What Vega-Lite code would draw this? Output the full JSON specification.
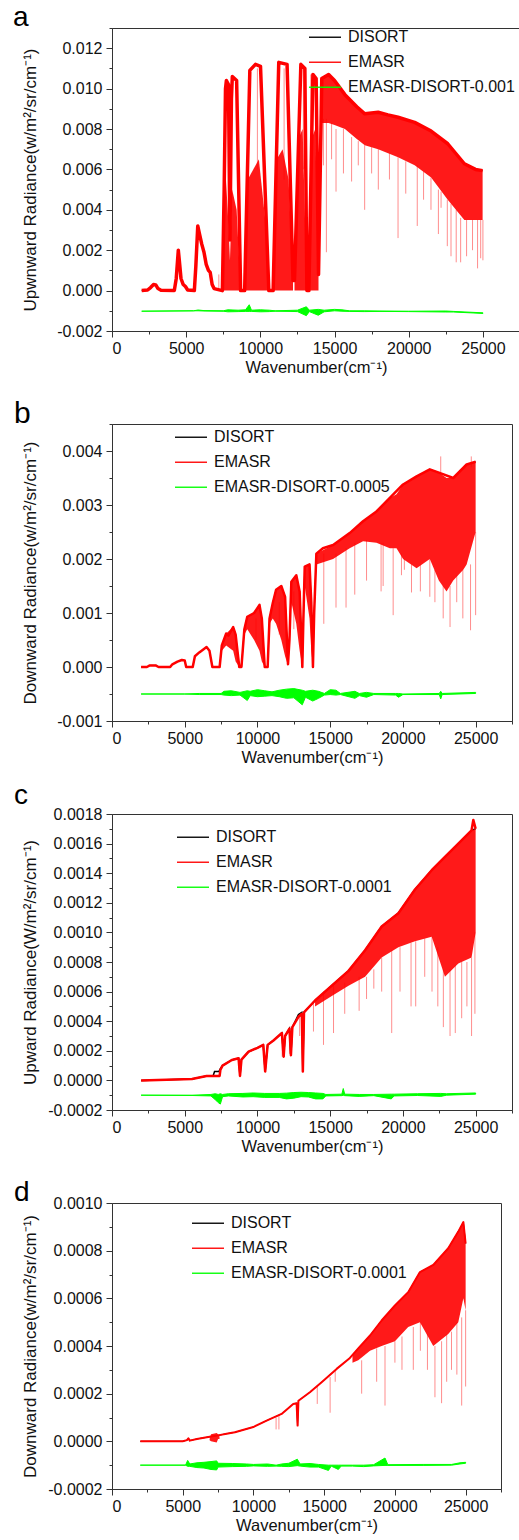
{
"$schema":"https://vega.github.io/schema/vega-lite/v6.json",
"padding":{"left":12,"top":3,"right":0,"bottom":0},
"bounds":"flush",
"spacing":93,
"resolve":{"scale":{"color":"independent"},"legend":{"color":"independent"}},
"config":{
"view":{"stroke":"#333","strokeWidth":1},
"font":"Liberation Sans",
"axis":{"domainColor":"#333","tickColor":"#333","labelColor":"#111","titleColor":"#111","labelFont":"Liberation Sans","titleFont":"Liberation Sans","labelFontSize":16,"titleFontWeight":"normal","grid":false,"labelPadding":4,"tickSize":6},
"axisX":{"titleFontSize":16.5,"titlePadding":3.5,"labelPadding":3},
"axisY":{"titleFontSize":17,"titleX":-77,"titleBaseline":"alphabetic"},
"legend":{"orient":"none","symbolType":"stroke","symbolSize":1024,"symbolStrokeWidth":1.5,"labelFontSize":16,"labelFont":"Liberation Sans","labelColor":"#111","labelLimit":0,"rowPadding":-13,"padding":0,"labelOffset":6}
},
"datasets":{
"aL":[{"x":2000,"y":0},{"x":2400,"y":0.00003},{"x":2600,"y":0.00015},{"x":2800,"y":0.0003},{"x":2950,"y":0.00028},{"x":3100,"y":0.0001},{"x":3300,"y":0.00002},{"x":4200,"y":0},{"x":4330,"y":0.0006},{"x":4470,"y":0.002},{"x":4550,"y":0.0014},{"x":4650,"y":0.0006},{"x":4800,"y":0.0003},{"x":4950,"y":0.0002},{"x":5100,"y":0.00003},{"x":5550,"y":0},{"x":5650,"y":0.0012},{"x":5780,"y":0.0032},{"x":5900,"y":0.0028},{"x":6050,"y":0.0023},{"x":6200,"y":0.0019},{"x":6350,"y":0.0013},{"x":6500,"y":0.001},{"x":6620,"y":0.0009},{"x":6750,"y":0.0003},{"x":6880,"y":0.0001},{"x":7440,"y":0},{"x":7560,"y":0.005},{"x":7650,"y":0.01},{"x":7710,"y":0.0104},{"x":7850,"y":0.0102},{"x":7950,"y":0.0025},{"x":8050,"y":0.0095},{"x":8110,"y":0.0106},{"x":8400,"y":0.0104},{"x":8670,"y":0},{"x":8940,"y":0},{"x":9290,"y":0.0109},{"x":9670,"y":0.0112},{"x":10010,"y":0.0111},{"x":10570,"y":0},{"x":10860,"y":0},{"x":11240,"y":0.0113},{"x":11800,"y":0.0112},{"x":12200,"y":0.0005},{"x":12300,"y":0.0005},{"x":12730,"y":0.0112},{"x":13000,"y":0.011},{"x":13136,"y":0},{"x":13270,"y":0},{"x":13540,"y":0.0107},{"x":13760,"y":0.0105},{"x":13920,"y":0.0008},{"x":14140,"y":0.0105},{"x":14600,"y":0.0107},{"x":15000,"y":0.0104},{"x":15700,"y":0.0097},{"x":16500,"y":0.0091},{"x":17040,"y":0.00875},{"x":17940,"y":0.00883},{"x":18600,"y":0.0087},{"x":19280,"y":0.00858},{"x":20400,"y":0.00833},{"x":21510,"y":0.0079},{"x":22630,"y":0.00727},{"x":23750,"y":0.00628},{"x":24500,"y":0.006},{"x":24980,"y":0.00594}],
"aB":[{"g":1,"x":7440,"y":0,"y2":0},{"g":1,"x":7600,"y":0.0065,"y2":0},{"g":1,"x":7800,"y":0.004,"y2":0},{"g":1,"x":7950,"y":0.0015,"y2":0},{"g":1,"x":8100,"y":0.005,"y2":0},{"g":1,"x":8400,"y":0.004,"y2":0},{"g":1,"x":8670,"y":0,"y2":0},{"g":2,"x":8940,"y":0,"y2":0},{"g":2,"x":9150,"y":0.0055,"y2":0},{"g":2,"x":9900,"y":0.0065,"y2":0},{"g":2,"x":10400,"y":0.003,"y2":0},{"g":2,"x":10570,"y":0,"y2":0},{"g":3,"x":10860,"y":0,"y2":0},{"g":3,"x":11100,"y":0.0065,"y2":0},{"g":3,"x":11500,"y":0.007,"y2":0},{"g":3,"x":11900,"y":0.0055,"y2":0},{"g":3,"x":12200,"y":0.0005,"y2":0},{"g":4,"x":12300,"y":0.0005,"y2":0},{"g":4,"x":12550,"y":0.0075,"y2":0},{"g":4,"x":12850,"y":0.008,"y2":0},{"g":4,"x":13136,"y":0,"y2":0},{"g":5,"x":13270,"y":0,"y2":0},{"g":5,"x":13450,"y":0.0075,"y2":0},{"g":5,"x":13700,"y":0.008,"y2":0},{"g":5,"x":13920,"y":0.0008,"y2":0},{"g":6,"x":14100,"y":0.01,"y2":0.0085},{"g":6,"x":14140,"y":0.0105,"y2":0.0083},{"g":6,"x":14600,"y":0.0107,"y2":0.0083},{"g":6,"x":15000,"y":0.0104,"y2":0.0082},{"g":6,"x":15700,"y":0.0097,"y2":0.008},{"g":6,"x":16500,"y":0.0091,"y2":0.0075},{"g":6,"x":17040,"y":0.00875,"y2":0.0072},{"g":6,"x":17940,"y":0.00883,"y2":0.007},{"g":6,"x":19280,"y":0.00858,"y2":0.0066},{"g":6,"x":20400,"y":0.00833,"y2":0.0062},{"g":6,"x":21510,"y":0.0079,"y2":0.0056},{"g":6,"x":22630,"y":0.00727,"y2":0.0045},{"g":6,"x":23750,"y":0.00628,"y2":0.0035},{"g":6,"x":24500,"y":0.006,"y2":0.0035},{"g":6,"x":24980,"y":0.00594,"y2":0.0035}],
"aS":[{"x":7200,"y":0.0008,"y2":0},{"x":9800,"y":0.011,"y2":0.006},{"x":11600,"y":0.011,"y2":0.0055},{"x":12900,"y":0.011,"y2":0.006},{"x":13400,"y":0.0107,"y2":0.005},{"x":14250,"y":0.0085,"y2":0.0062},{"x":14450,"y":0.0085,"y2":0.0019},{"x":14800,"y":0.0083,"y2":0.0065},{"x":15100,"y":0.008,"y2":0.0049},{"x":15600,"y":0.008,"y2":0.0058},{"x":16150,"y":0.0076,"y2":0.0054},{"x":16600,"y":0.0074,"y2":0.0062},{"x":17030,"y":0.0072,"y2":0.004},{"x":17500,"y":0.0071,"y2":0.0058},{"x":17950,"y":0.007,"y2":0.005},{"x":18700,"y":0.0068,"y2":0.0055},{"x":19280,"y":0.0066,"y2":0.0026},{"x":19800,"y":0.0064,"y2":0.0048},{"x":20575,"y":0.0062,"y2":0.0032},{"x":21000,"y":0.0059,"y2":0.0045},{"x":21500,"y":0.0056,"y2":0.004},{"x":22000,"y":0.005,"y2":0.0028},{"x":22180,"y":0.0049,"y2":0.0041},{"x":22600,"y":0.0045,"y2":0.0022},{"x":22850,"y":0.0043,"y2":0.0017},{"x":23200,"y":0.004,"y2":0.0014},{"x":23500,"y":0.0036,"y2":0.0014},{"x":23900,"y":0.0035,"y2":0.0017},{"x":24300,"y":0.0035,"y2":0.002},{"x":24640,"y":0.0035,"y2":0.0011},{"x":24850,"y":0.0035,"y2":0.0016},{"x":25000,"y":0.0035,"y2":0.0015}],
"aG":[{"x":2000,"y":-0.00102,"y2":-0.00102},{"x":5500,"y":-0.001,"y2":-0.001},{"x":5800,"y":-0.00096,"y2":-0.001},{"x":6200,"y":-0.00099,"y2":-0.00101},{"x":7500,"y":-0.001,"y2":-0.00102},{"x":7800,"y":-0.00095,"y2":-0.00105},{"x":8500,"y":-0.00097,"y2":-0.00104},{"x":9000,"y":-0.00095,"y2":-0.00103},{"x":9250,"y":-0.0007,"y2":-0.00103},{"x":9400,"y":-0.00097,"y2":-0.00103},{"x":10000,"y":-0.00095,"y2":-0.00105},{"x":10600,"y":-0.00097,"y2":-0.00104},{"x":11000,"y":-0.001,"y2":-0.00102},{"x":12000,"y":-0.00098,"y2":-0.00103},{"x":12500,"y":-0.00097,"y2":-0.00104},{"x":13100,"y":-0.0008,"y2":-0.00124},{"x":13300,"y":-0.00097,"y2":-0.00104},{"x":13900,"y":-0.00093,"y2":-0.00122},{"x":14300,"y":-0.00097,"y2":-0.00105},{"x":15000,"y":-0.00093,"y2":-0.001},{"x":15500,"y":-0.00095,"y2":-0.00102},{"x":16000,"y":-0.001,"y2":-0.00103},{"x":17000,"y":-0.001,"y2":-0.00104},{"x":18000,"y":-0.00101,"y2":-0.00103},{"x":20000,"y":-0.00102,"y2":-0.00104},{"x":22500,"y":-0.00101,"y2":-0.00106},{"x":23000,"y":-0.00103,"y2":-0.00106},{"x":25000,"y":-0.0011,"y2":-0.00113}],
"bL":[{"x":2000,"y":0},{"x":2400,"y":0},{"x":2600,"y":0.00003},{"x":3000,"y":0.00003},{"x":3200,"y":0},{"x":4000,"y":0},{"x":4150,"y":0.00005},{"x":4500,"y":0.0001},{"x":4800,"y":0.00013},{"x":5000,"y":0.00012},{"x":5100,"y":0},{"x":5550,"y":0},{"x":5700,"y":0.0002},{"x":6000,"y":0.00027},{"x":6300,"y":0.00033},{"x":6500,"y":0.00037},{"x":6700,"y":0.0003},{"x":6900,"y":0},{"x":7400,"y":0},{"x":7550,"y":0.0004},{"x":7850,"y":0.00062},{"x":8000,"y":0.00058},{"x":8330,"y":0.00074},{"x":8500,"y":0.0006},{"x":8750,"y":0},{"x":8900,"y":0},{"x":9100,"y":0.0007},{"x":9300,"y":0.00093},{"x":9770,"y":0.001},{"x":10140,"y":0.00115},{"x":10300,"y":0.0009},{"x":10500,"y":0},{"x":10700,"y":0},{"x":10830,"y":0.0009},{"x":11050,"y":0.00118},{"x":11280,"y":0.00143},{"x":11640,"y":0.0015},{"x":11900,"y":0.0013},{"x":12100,"y":0.00005},{"x":12200,"y":0.0005},{"x":12330,"y":0.00158},{"x":12670,"y":0.0017},{"x":12900,"y":0.0014},{"x":13085,"y":0},{"x":13150,"y":0.0008},{"x":13250,"y":0.00186},{"x":13580,"y":0.0019},{"x":13700,"y":0.0012},{"x":13815,"y":0},{"x":13900,"y":0.001},{"x":14050,"y":0.0021},{"x":14500,"y":0.0022},{"x":15200,"y":0.00226},{"x":16340,"y":0.00248},{"x":17260,"y":0.0027},{"x":18180,"y":0.00288},{"x":19100,"y":0.00313},{"x":20010,"y":0.00338},{"x":20940,"y":0.00353},{"x":21850,"y":0.00366},{"x":22470,"y":0.0036},{"x":23460,"y":0.0035},{"x":24380,"y":0.00375},{"x":25000,"y":0.0038}],
"bB":[{"x":7400,"y":0,"y2":0},{"x":7550,"y":0.0004,"y2":0.0003},{"x":7850,"y":0.00062,"y2":0.0004},{"x":8330,"y":0.00074,"y2":0.0003},{"x":8500,"y":0.0006,"y2":0.0001},{"x":8750,"y":0,"y2":0},{"x":8900,"y":0,"y2":0},{"x":9100,"y":0.0007,"y2":0.0006},{"x":9300,"y":0.00093,"y2":0.0007},{"x":9770,"y":0.001,"y2":0.0005},{"x":10140,"y":0.00115,"y2":0.0003},{"x":10300,"y":0.0009,"y2":0.0001},{"x":10500,"y":0,"y2":0},{"x":10700,"y":0,"y2":0},{"x":10830,"y":0.0009,"y2":0.0008},{"x":11050,"y":0.00118,"y2":0.0009},{"x":11280,"y":0.00143,"y2":0.0008},{"x":11640,"y":0.0015,"y2":0.0005},{"x":11900,"y":0.0013,"y2":0.0002},{"x":12100,"y":0.00005,"y2":0.00003},{"x":12200,"y":0.0005,"y2":0.0004},{"x":12330,"y":0.00158,"y2":0.0012},{"x":12670,"y":0.0017,"y2":0.0008},{"x":12900,"y":0.0014,"y2":0.0003},{"x":13085,"y":0,"y2":0},{"x":13150,"y":0.0008,"y2":0.0006},{"x":13250,"y":0.00186,"y2":0.0015},{"x":13580,"y":0.0019,"y2":0.0009},{"x":13700,"y":0.0012,"y2":0.0003},{"x":13815,"y":0,"y2":0},{"x":13900,"y":0.001,"y2":0.0009},{"x":14050,"y":0.0021,"y2":0.0019},{"x":15200,"y":0.00226,"y2":0.002},{"x":16340,"y":0.00248,"y2":0.0022},{"x":17260,"y":0.0027,"y2":0.00233},{"x":18180,"y":0.00288,"y2":0.0023},{"x":19100,"y":0.00313,"y2":0.0022},{"x":19560,"y":0.0032,"y2":0.0022},{"x":20010,"y":0.00338,"y2":0.002},{"x":20940,"y":0.00353,"y2":0.00183},{"x":21850,"y":0.00366,"y2":0.002},{"x":22470,"y":0.0036,"y2":0.0016},{"x":23000,"y":0.0035,"y2":0.0014},{"x":23460,"y":0.0035,"y2":0.0016},{"x":24150,"y":0.0037,"y2":0.0018},{"x":24380,"y":0.00375,"y2":0.0019},{"x":25000,"y":0.0038,"y2":0.0025}],
"bS":[{"x":9900,"y":0.0009,"y2":0.0005},{"x":11500,"y":0.0012,"y2":0.0006},{"x":12500,"y":0.0014,"y2":0.0007},{"x":14560,"y":0.0021,"y2":0.0008},{"x":15400,"y":0.0021,"y2":0.0011},{"x":16090,"y":0.0022,"y2":0.0011},{"x":16690,"y":0.0023,"y2":0.00134},{"x":17500,"y":0.00235,"y2":0.0016},{"x":18500,"y":0.0023,"y2":0.0014},{"x":18640,"y":0.0023,"y2":0.0015},{"x":19330,"y":0.0022,"y2":0.00096},{"x":19900,"y":0.0021,"y2":0.0017},{"x":20100,"y":0.002,"y2":0.0018},{"x":20590,"y":0.0019,"y2":0.00138},{"x":21200,"y":0.0019,"y2":0.0014},{"x":21850,"y":0.002,"y2":0.0013},{"x":22200,"y":0.0018,"y2":0.0012},{"x":22600,"y":0.0036,"y2":0.0039},{"x":22770,"y":0.0015,"y2":0.0009},{"x":23240,"y":0.0015,"y2":0.00074},{"x":23700,"y":0.0017,"y2":0.0012},{"x":24120,"y":0.0018,"y2":0.0009},{"x":24650,"y":0.0019,"y2":0.00068},{"x":24700,"y":0.0037,"y2":0.0039},{"x":25000,"y":0.0025,"y2":0.00096}],
"bG":[{"x":2000,"y":-0.0005,"y2":-0.0005},{"x":5000,"y":-0.0005,"y2":-0.0005},{"x":6000,"y":-0.00049,"y2":-0.00051},{"x":7500,"y":-0.00049,"y2":-0.00051},{"x":7700,"y":-0.00045,"y2":-0.00052},{"x":8200,"y":-0.00044,"y2":-0.00053},{"x":8800,"y":-0.00047,"y2":-0.00052},{"x":9300,"y":-0.00044,"y2":-0.00062},{"x":9500,"y":-0.00045,"y2":-0.00053},{"x":10000,"y":-0.00042,"y2":-0.00055},{"x":10500,"y":-0.00044,"y2":-0.00054},{"x":11000,"y":-0.00046,"y2":-0.00053},{"x":11500,"y":-0.00043,"y2":-0.00055},{"x":12000,"y":-0.00041,"y2":-0.00058},{"x":12500,"y":-0.0004,"y2":-0.00057},{"x":13080,"y":-0.00043,"y2":-0.0007},{"x":13300,"y":-0.00045,"y2":-0.00056},{"x":13800,"y":-0.00043,"y2":-0.00063},{"x":14200,"y":-0.00045,"y2":-0.00058},{"x":14600,"y":-0.00049,"y2":-0.00052},{"x":15000,"y":-0.00042,"y2":-0.00051},{"x":15400,"y":-0.00043,"y2":-0.00052},{"x":15700,"y":-0.00049,"y2":-0.00051},{"x":16700,"y":-0.00045,"y2":-0.00058},{"x":17000,"y":-0.00049,"y2":-0.00053},{"x":17500,"y":-0.00047,"y2":-0.00056},{"x":18000,"y":-0.00049,"y2":-0.00051},{"x":19500,"y":-0.00049,"y2":-0.00052},{"x":19700,"y":-0.00049,"y2":-0.00056},{"x":20000,"y":-0.0005,"y2":-0.00051},{"x":22500,"y":-0.00049,"y2":-0.00051},{"x":22600,"y":-0.00045,"y2":-0.00059},{"x":22700,"y":-0.00049,"y2":-0.00051},{"x":25000,"y":-0.00047,"y2":-0.00049}],
"cL":[{"x":2000,"y":0},{"x":5500,"y":0.00001},{"x":6500,"y":0.00003},{"x":7000,"y":0.00003},{"x":7400,"y":0.00003},{"x":7450,"y":0.00007},{"x":7600,"y":0.0001},{"x":8240,"y":0.000138},{"x":8700,"y":0.00015},{"x":8800,"y":0.00003},{"x":8900,"y":0.00014},{"x":9390,"y":0.000194},{"x":10000,"y":0.00022},{"x":10400,"y":0.00024},{"x":10530,"y":0.00006},{"x":10700,"y":0.00024},{"x":11100,"y":0.00027},{"x":11680,"y":0.00032},{"x":11800,"y":0.00016},{"x":11900,"y":0.0003},{"x":12200,"y":0.00035},{"x":12300,"y":0.00017},{"x":12400,"y":0.00036},{"x":12820,"y":0.00043},{"x":13050,"y":0.00045},{"x":13120,"y":0.00006},{"x":13200,"y":0.00046},{"x":13960,"y":0.00054},{"x":15110,"y":0.00064},{"x":16260,"y":0.00074},{"x":17400,"y":0.00088},{"x":18540,"y":0.00104},{"x":19690,"y":0.00113},{"x":20830,"y":0.00129},{"x":21980,"y":0.00142},{"x":22890,"y":0.00151},{"x":23810,"y":0.0016},{"x":24720,"y":0.00169},{"x":24840,"y":0.00176},{"x":25000,"y":0.0017}],
"cK":[{"x":2000,"y":0},{"x":5500,"y":0.00001},{"x":6500,"y":0.00003},{"x":6950,"y":0.00003},{"x":7050,"y":0.00006},{"x":7350,"y":0.00006},{"x":7450,"y":0.00008},{"x":7600,"y":0.0001},{"x":8240,"y":0.000138},{"x":8700,"y":0.00015},{"x":8800,"y":0.00003},{"x":8900,"y":0.00014},{"x":9390,"y":0.000194},{"x":10000,"y":0.00022},{"x":10400,"y":0.00024},{"x":10530,"y":0.00006},{"x":10700,"y":0.00024},{"x":11100,"y":0.00027},{"x":11680,"y":0.00032},{"x":11800,"y":0.00016},{"x":11900,"y":0.0003},{"x":12200,"y":0.00035},{"x":12300,"y":0.00017},{"x":12400,"y":0.00036},{"x":12820,"y":0.000445},{"x":13050,"y":0.00046},{"x":13120,"y":0.00006},{"x":13200,"y":0.00046},{"x":13960,"y":0.00054},{"x":15110,"y":0.00064},{"x":16260,"y":0.00074},{"x":17400,"y":0.00088},{"x":18540,"y":0.00104},{"x":19690,"y":0.00113},{"x":20830,"y":0.00129},{"x":21980,"y":0.00142},{"x":22890,"y":0.00151},{"x":23810,"y":0.0016},{"x":24720,"y":0.00169},{"x":25000,"y":0.0017}],
"cB":[{"x":13960,"y":0.00054,"y2":0.0005},{"x":15110,"y":0.00064,"y2":0.00057},{"x":16260,"y":0.00074,"y2":0.00064},{"x":17400,"y":0.00088,"y2":0.0007},{"x":18540,"y":0.00104,"y2":0.00083},{"x":19690,"y":0.00113,"y2":0.0009},{"x":20830,"y":0.00129,"y2":0.00094},{"x":21980,"y":0.00142,"y2":0.00097},{"x":22890,"y":0.00151,"y2":0.0007},{"x":23810,"y":0.0016,"y2":0.00079},{"x":24720,"y":0.00169,"y2":0.00083},{"x":25000,"y":0.0017,"y2":0.001}],
"cS":[{"x":11700,"y":0.0003,"y2":0.00016},{"x":12200,"y":0.00034,"y2":0.00018},{"x":12900,"y":0.00043,"y2":0.0003},{"x":13850,"y":0.00053,"y2":0.00033},{"x":14540,"y":0.0006,"y2":0.00024},{"x":15230,"y":0.00064,"y2":0.00032},{"x":16000,"y":0.00066,"y2":0.00045},{"x":16990,"y":0.0007,"y2":0.00047},{"x":17500,"y":0.0007,"y2":0.00055},{"x":18000,"y":0.00075,"y2":0.00062},{"x":18540,"y":0.00083,"y2":0.0006},{"x":19230,"y":0.00088,"y2":0.00032},{"x":19800,"y":0.0009,"y2":0.0006},{"x":20560,"y":0.00093,"y2":0.0005},{"x":20880,"y":0.00094,"y2":0.0005},{"x":21500,"y":0.00096,"y2":0.0007},{"x":22000,"y":0.00097,"y2":0.0006},{"x":22400,"y":0.0009,"y2":0.0005},{"x":22780,"y":0.00075,"y2":0.00036},{"x":23240,"y":0.00075,"y2":0.0003},{"x":23600,"y":0.00078,"y2":0.00032},{"x":24040,"y":0.0008,"y2":0.00042},{"x":24400,"y":0.0008,"y2":0.0005},{"x":24720,"y":0.00083,"y2":0.0003},{"x":24950,"y":0.001,"y2":0.00045}],
"cG":[{"x":2000,"y":-0.0001,"y2":-0.0001},{"x":5500,"y":-0.0001,"y2":-0.000102},{"x":6800,"y":-0.000095,"y2":-0.000105},{"x":7100,"y":-0.00009,"y2":-0.00013},{"x":7300,"y":-0.000095,"y2":-0.00015},{"x":7450,"y":-0.00009,"y2":-0.00016},{"x":7600,"y":-0.000095,"y2":-0.00011},{"x":8000,"y":-0.00009,"y2":-0.000105},{"x":9000,"y":-0.000088,"y2":-0.000112},{"x":9700,"y":-0.000085,"y2":-0.00011},{"x":10500,"y":-0.000088,"y2":-0.000115},{"x":11500,"y":-0.000088,"y2":-0.000115},{"x":12000,"y":-0.000086,"y2":-0.000125},{"x":12500,"y":-0.000082,"y2":-0.00012},{"x":13000,"y":-0.00008,"y2":-0.00011},{"x":13500,"y":-0.000082,"y2":-0.000112},{"x":14000,"y":-0.000085,"y2":-0.000125},{"x":14500,"y":-0.000088,"y2":-0.000125},{"x":14700,"y":-0.000095,"y2":-0.000105},{"x":15800,"y":-0.000093,"y2":-0.000103},{"x":15900,"y":-0.000055,"y2":-0.0001},{"x":16000,"y":-0.000093,"y2":-0.000103},{"x":17000,"y":-0.000095,"y2":-0.000108},{"x":18000,"y":-0.000095,"y2":-0.000103},{"x":19200,"y":-0.000093,"y2":-0.000125},{"x":19400,"y":-0.000093,"y2":-0.000105},{"x":21000,"y":-0.00009,"y2":-0.000102},{"x":22600,"y":-0.000088,"y2":-0.000108},{"x":23000,"y":-0.00009,"y2":-0.0001},{"x":25000,"y":-0.000085,"y2":-0.000093}],
"dL":[{"x":2000,"y":0},{"x":5000,"y":0},{"x":5300,"y":0.000005},{"x":5400,"y":0.000013},{"x":5500,"y":0.000003},{"x":6000,"y":0.00001},{"x":6500,"y":0.000015},{"x":7000,"y":0.00002},{"x":7500,"y":0.000025},{"x":8100,"y":0.000032},{"x":8690,"y":0.000038},{"x":9990,"y":0.00006},{"x":10930,"y":0.000087},{"x":11990,"y":0.000115},{"x":12810,"y":0.000157},{"x":13050,"y":0.00016},{"x":13120,"y":0.000066},{"x":13180,"y":0.00017},{"x":13990,"y":0.000206},{"x":14820,"y":0.000248},{"x":15880,"y":0.000304},{"x":16820,"y":0.00035},{"x":17410,"y":0.00039},{"x":18240,"y":0.000444},{"x":19060,"y":0.000507},{"x":20000,"y":0.00057},{"x":20940,"y":0.000626},{"x":21770,"y":0.00071},{"x":22710,"y":0.00074},{"x":23770,"y":0.00081},{"x":24480,"y":0.00088},{"x":24840,"y":0.00092},{"x":25000,"y":0.00083}],
"dB":[{"g":1,"x":6900,"y":0.00001,"y2":0.000005},{"g":1,"x":7000,"y":0.00003,"y2":0},{"g":1,"x":7400,"y":0.000035,"y2":-0.000005},{"g":1,"x":7500,"y":0.00003,"y2":0.00001},{"g":1,"x":7600,"y":0.00002,"y2":0.00001},{"g":2,"x":17000,"y":0.00036,"y2":0.00033},{"g":2,"x":17410,"y":0.00039,"y2":0.00034},{"g":2,"x":18240,"y":0.000444,"y2":0.00038},{"g":2,"x":19060,"y":0.000507,"y2":0.0004},{"g":2,"x":20000,"y":0.00057,"y2":0.00042},{"g":2,"x":20940,"y":0.000626,"y2":0.00048},{"g":2,"x":21770,"y":0.00071,"y2":0.0005},{"g":2,"x":22710,"y":0.00074,"y2":0.0004},{"g":2,"x":23770,"y":0.00081,"y2":0.00045},{"g":2,"x":24480,"y":0.00088,"y2":0.0005},{"g":2,"x":24840,"y":0.00092,"y2":0.0006},{"g":2,"x":25000,"y":0.00083,"y2":0.00055}],
"dS":[{"x":11600,"y":0.0001,"y2":0.00005},{"x":11800,"y":0.00011,"y2":0.00005},{"x":14510,"y":0.00023,"y2":0.000157},{"x":15420,"y":0.00027,"y2":0.00012},{"x":15780,"y":0.0003,"y2":0.00025},{"x":17650,"y":0.00034,"y2":0.0002},{"x":18710,"y":0.00039,"y2":0.00025},{"x":19300,"y":0.0004,"y2":0.00015},{"x":20000,"y":0.00042,"y2":0.00033},{"x":20500,"y":0.00044,"y2":0.0003},{"x":21300,"y":0.00048,"y2":0.0003},{"x":21800,"y":0.0005,"y2":0.00038},{"x":22300,"y":0.00045,"y2":0.0003},{"x":22830,"y":0.0004,"y2":0.000185},{"x":23300,"y":0.00042,"y2":0.00016},{"x":23660,"y":0.00045,"y2":0.00025},{"x":24000,"y":0.00046,"y2":0.0003},{"x":24380,"y":0.0005,"y2":0.00028},{"x":24720,"y":0.00052,"y2":0.00015},{"x":25000,"y":0.00055,"y2":0.00023}],
"dG":[{"x":2000,"y":-0.0001,"y2":-0.0001},{"x":5200,"y":-0.0001,"y2":-0.0001},{"x":5350,"y":-0.00008,"y2":-0.000105},{"x":5500,"y":-0.000095,"y2":-0.000105},{"x":6000,"y":-0.00009,"y2":-0.00011},{"x":6500,"y":-0.000088,"y2":-0.000112},{"x":7000,"y":-0.000085,"y2":-0.000118},{"x":7400,"y":-0.000082,"y2":-0.00012},{"x":7500,"y":-0.000092,"y2":-0.000108},{"x":8500,"y":-0.000093,"y2":-0.000106},{"x":9500,"y":-0.000095,"y2":-0.000105},{"x":10000,"y":-0.000097,"y2":-0.000103},{"x":11000,"y":-0.000095,"y2":-0.000105},{"x":11600,"y":-0.0001,"y2":-0.000104},{"x":12000,"y":-0.000095,"y2":-0.000105},{"x":12500,"y":-0.000092,"y2":-0.000106},{"x":13100,"y":-0.000075,"y2":-0.000102},{"x":13300,"y":-0.000095,"y2":-0.000104},{"x":14000,"y":-0.000093,"y2":-0.000108},{"x":14600,"y":-0.000097,"y2":-0.000108},{"x":15300,"y":-0.0001,"y2":-0.000122},{"x":15500,"y":-0.0001,"y2":-0.000104},{"x":16000,"y":-0.0001,"y2":-0.000118},{"x":16200,"y":-0.0001,"y2":-0.000104},{"x":17000,"y":-0.0001,"y2":-0.000104},{"x":17800,"y":-0.0001,"y2":-0.000106},{"x":18500,"y":-0.000098,"y2":-0.000103},{"x":19300,"y":-0.00007,"y2":-0.000101},{"x":19500,"y":-0.000098,"y2":-0.000101},{"x":22000,"y":-0.000097,"y2":-0.000101},{"x":24000,"y":-0.000097,"y2":-0.0001},{"x":24600,"y":-0.00009,"y2":-0.000095},{"x":25000,"y":-0.000088,"y2":-0.000092}]
},
"vconcat":[
{
"width":408,"height":303,
"title":{"text":"a","anchor":"start","frame":"group","dx":-99,"offset":-34,"baseline":"alphabetic","fontSize":28,"fontWeight":"normal","font":"Liberation Sans","color":"#000"},
"encoding":{
"x":{"field":"x","type":"quantitative","scale":{"domain":[0,27500],"nice":false,"zero":false},"axis":{"values":[0,2500,5000,7500,10000,12500,15000,17500,20000,22500,25000,27500],"labelExpr":"datum.value % 5000 === 0 ? format(datum.value, 'd') : ''","tickSize":{"condition":{"test":"datum.value % 5000 === 0","value":6},"value":3},"title":"Wavenumber(cm⁻¹)"}},
"y":{"field":"y","type":"quantitative","scale":{"domain":[-0.002,0.013],"nice":false,"zero":false},"axis":{"values":[-0.002,-0.001,0,0.001,0.002,0.003,0.004,0.005,0.006,0.007,0.008,0.009,0.01,0.011,0.012,0.013],"labelExpr":"abs(round(datum.value*1000)) % 2 === 0 ? replace(format(datum.value, '.3f'), '\u2212', '-') : ''","tickSize":{"condition":{"test":"abs(round(datum.value*1000)) % 2 === 0","value":6},"value":3},"title":"Upwnward Radiance(w/m²/sr/cm⁻¹)"}}
},
"layer":[
{"data":{"name":"aL"},"mark":{"type":"line","strokeWidth":1},"encoding":{"color":{"datum":"DISORT","scale":{"domain":["DISORT","EMASR","EMASR-DISORT-0.001"],"range":["#000000","#ff0000","#00ff00"]},"legend":{"title":null,"legendX":196,"legendY":-7.75,"symbolOpacity":0.45}}}},
{"data":{"name":"aB"},"mark":{"type":"area","opacity":0.9},"encoding":{"y2":{"field":"y2"},"detail":{"field":"g"},"color":{"datum":"EMASR","scale":{"domain":["DISORT","EMASR","EMASR-DISORT-0.001"],"range":["#000000","#ff0000","#00ff00"]}}}},
{"data":{"name":"aS"},"mark":{"type":"rule","opacity":0.45,"strokeWidth":1},"encoding":{"y2":{"field":"y2"},"color":{"datum":"EMASR","scale":{"domain":["DISORT","EMASR","EMASR-DISORT-0.001"],"range":["#000000","#ff0000","#00ff00"]}}}},
{"data":{"name":"aL"},"mark":{"type":"line","strokeWidth":3.5,"strokeJoin":"round"},"encoding":{"color":{"datum":"EMASR","scale":{"domain":["DISORT","EMASR","EMASR-DISORT-0.001"],"range":["#000000","#ff0000","#00ff00"]}}}},
{"data":{"name":"aG"},"mark":{"type":"area","stroke":"#00ff00","strokeWidth":1},"encoding":{"y2":{"field":"y2"},"color":{"datum":"EMASR-DISORT-0.001","scale":{"domain":["DISORT","EMASR","EMASR-DISORT-0.001"],"range":["#000000","#ff0000","#00ff00"]}}}}
]
},
{
"width":400,"height":297,
"title":{"text":"b","anchor":"start","frame":"group","dx":-98,"offset":-33,"baseline":"alphabetic","fontSize":30,"fontWeight":"normal","font":"Liberation Sans","color":"#000"},
"encoding":{
"x":{"field":"x","type":"quantitative","scale":{"domain":[0,27500],"nice":false,"zero":false},"axis":{"values":[0,2500,5000,7500,10000,12500,15000,17500,20000,22500,25000,27500],"labelExpr":"datum.value % 5000 === 0 ? format(datum.value, 'd') : ''","tickSize":{"condition":{"test":"datum.value % 5000 === 0","value":6},"value":3},"title":"Wavenumber(cm⁻¹)"}},
"y":{"field":"y","type":"quantitative","scale":{"domain":[-0.001,0.0045],"nice":false,"zero":false},"axis":{"values":[-0.001,-0.0005,0,0.0005,0.001,0.0015,0.002,0.0025,0.003,0.0035,0.004,0.0045],"labelExpr":"abs(round(datum.value*2000)) % 2 === 0 ? replace(format(datum.value, '.3f'), '\u2212', '-') : ''","tickSize":{"condition":{"test":"abs(round(datum.value*2000)) % 2 === 0","value":6},"value":3},"title":"Downward Radiance(w/m²/sr/cm⁻¹)"}}
},
"layer":[
{"data":{"name":"bL"},"mark":{"type":"line","strokeWidth":1},"encoding":{"color":{"datum":"DISORT","scale":{"domain":["DISORT","EMASR","EMASR-DISORT-0.0005"],"range":["#000000","#ff0000","#00ff00"]},"legend":{"title":null,"legendX":62,"legendY":-3.75,"symbolOpacity":0.7}}}},
{"data":{"name":"bB"},"mark":{"type":"area","opacity":0.9},"encoding":{"y2":{"field":"y2"},"color":{"datum":"EMASR","scale":{"domain":["DISORT","EMASR","EMASR-DISORT-0.0005"],"range":["#000000","#ff0000","#00ff00"]}}}},
{"data":{"name":"bS"},"mark":{"type":"rule","opacity":0.45,"strokeWidth":1},"encoding":{"y2":{"field":"y2"},"color":{"datum":"EMASR","scale":{"domain":["DISORT","EMASR","EMASR-DISORT-0.0005"],"range":["#000000","#ff0000","#00ff00"]}}}},
{"data":{"name":"bL"},"mark":{"type":"line","strokeWidth":2.5,"strokeJoin":"round"},"encoding":{"color":{"datum":"EMASR","scale":{"domain":["DISORT","EMASR","EMASR-DISORT-0.0005"],"range":["#000000","#ff0000","#00ff00"]}}}},
{"data":{"name":"bG"},"mark":{"type":"area","stroke":"#00ff00","strokeWidth":1},"encoding":{"y2":{"field":"y2"},"color":{"datum":"EMASR-DISORT-0.0005","scale":{"domain":["DISORT","EMASR","EMASR-DISORT-0.0005"],"range":["#000000","#ff0000","#00ff00"]}}}}
]
},
{
"width":400,"height":296,
"title":{"text":"c","anchor":"start","frame":"group","dx":-98,"offset":-26,"baseline":"alphabetic","fontSize":28,"fontWeight":"normal","font":"Liberation Sans","color":"#000"},
"encoding":{
"x":{"field":"x","type":"quantitative","scale":{"domain":[0,27500],"nice":false,"zero":false},"axis":{"values":[0,2500,5000,7500,10000,12500,15000,17500,20000,22500,25000,27500],"labelExpr":"datum.value % 5000 === 0 ? format(datum.value, 'd') : ''","tickSize":{"condition":{"test":"datum.value % 5000 === 0","value":6},"value":3},"title":"Wavenumber(cm⁻¹)"}},
"y":{"field":"y","type":"quantitative","scale":{"domain":[-0.0002,0.0018],"nice":false,"zero":false},"axis":{"values":[-0.0002,-0.0001,0,0.0001,0.0002,0.0003,0.0004,0.0005,0.0006,0.0007,0.0008,0.0009,0.001,0.0011,0.0012,0.0013,0.0014,0.0015,0.0016,0.0017,0.0018],"labelExpr":"abs(round(datum.value*10000)) % 2 === 0 ? replace(format(datum.value, '.4f'), '\u2212', '-') : ''","tickSize":{"condition":{"test":"abs(round(datum.value*10000)) % 2 === 0","value":6},"value":3},"title":"Upward Radiance(W/m²/sr/cm⁻¹)"}}
},
"layer":[
{"data":{"name":"cK"},"mark":{"type":"line","strokeWidth":1.5},"encoding":{"color":{"datum":"DISORT","scale":{"domain":["DISORT","EMASR","EMASR-DISORT-0.0001"],"range":["#000000","#ff0000","#00ff00"]},"legend":{"title":null,"legendX":64,"legendY":6.25,"symbolOpacity":1}}}},
{"data":{"name":"cB"},"mark":{"type":"area","opacity":0.9},"encoding":{"y2":{"field":"y2"},"color":{"datum":"EMASR","scale":{"domain":["DISORT","EMASR","EMASR-DISORT-0.0001"],"range":["#000000","#ff0000","#00ff00"]}}}},
{"data":{"name":"cS"},"mark":{"type":"rule","opacity":0.45,"strokeWidth":1},"encoding":{"y2":{"field":"y2"},"color":{"datum":"EMASR","scale":{"domain":["DISORT","EMASR","EMASR-DISORT-0.0001"],"range":["#000000","#ff0000","#00ff00"]}}}},
{"data":{"name":"cL"},"mark":{"type":"line","strokeWidth":2.5,"strokeJoin":"round"},"encoding":{"color":{"datum":"EMASR","scale":{"domain":["DISORT","EMASR","EMASR-DISORT-0.0001"],"range":["#000000","#ff0000","#00ff00"]}}}},
{"data":{"name":"cG"},"mark":{"type":"area","stroke":"#00ff00","strokeWidth":1},"encoding":{"y2":{"field":"y2"},"color":{"datum":"EMASR-DISORT-0.0001","scale":{"domain":["DISORT","EMASR","EMASR-DISORT-0.0001"],"range":["#000000","#ff0000","#00ff00"]}}}}
]
},
{
"width":389,"height":286,
"title":{"text":"d","anchor":"start","frame":"group","dx":-98,"offset":-34,"baseline":"alphabetic","fontSize":28,"fontWeight":"normal","font":"Liberation Sans","color":"#000"},
"encoding":{
"x":{"field":"x","type":"quantitative","scale":{"domain":[0,27500],"nice":false,"zero":false},"axis":{"values":[0,2500,5000,7500,10000,12500,15000,17500,20000,22500,25000,27500],"labelExpr":"datum.value % 5000 === 0 ? format(datum.value, 'd') : ''","tickSize":{"condition":{"test":"datum.value % 5000 === 0","value":6},"value":3},"title":"Wavenumber(cm⁻¹)"}},
"y":{"field":"y","type":"quantitative","scale":{"domain":[-0.0002,0.001],"nice":false,"zero":false},"axis":{"values":[-0.0002,-0.0001,0,0.0001,0.0002,0.0003,0.0004,0.0005,0.0006,0.0007,0.0008,0.0009,0.001],"labelExpr":"abs(round(datum.value*10000)) % 2 === 0 ? replace(format(datum.value, '.4f'), '\u2212', '-') : ''","tickSize":{"condition":{"test":"abs(round(datum.value*10000)) % 2 === 0","value":6},"value":3},"title":"Downward Radiance(w/m²/sr/cm⁻¹)"}}
},
"layer":[
{"data":{"name":"dL"},"mark":{"type":"line","strokeWidth":1},"encoding":{"color":{"datum":"DISORT","scale":{"domain":["DISORT","EMASR","EMASR-DISORT-0.0001"],"range":["#000000","#ff0000","#00ff00"]},"legend":{"title":null,"legendX":79,"legendY":3.25,"symbolOpacity":0.5}}}},
{"data":{"name":"dB"},"mark":{"type":"area","opacity":0.9},"encoding":{"y2":{"field":"y2"},"detail":{"field":"g"},"color":{"datum":"EMASR","scale":{"domain":["DISORT","EMASR","EMASR-DISORT-0.0001"],"range":["#000000","#ff0000","#00ff00"]}}}},
{"data":{"name":"dS"},"mark":{"type":"rule","opacity":0.45,"strokeWidth":1},"encoding":{"y2":{"field":"y2"},"color":{"datum":"EMASR","scale":{"domain":["DISORT","EMASR","EMASR-DISORT-0.0001"],"range":["#000000","#ff0000","#00ff00"]}}}},
{"data":{"name":"dL"},"mark":{"type":"line","strokeWidth":2,"strokeJoin":"round"},"encoding":{"color":{"datum":"EMASR","scale":{"domain":["DISORT","EMASR","EMASR-DISORT-0.0001"],"range":["#000000","#ff0000","#00ff00"]}}}},
{"data":{"name":"dG"},"mark":{"type":"area","stroke":"#00ff00","strokeWidth":1},"encoding":{"y2":{"field":"y2"},"color":{"datum":"EMASR-DISORT-0.0001","scale":{"domain":["DISORT","EMASR","EMASR-DISORT-0.0001"],"range":["#000000","#ff0000","#00ff00"]}}}}
]
}
]
}
